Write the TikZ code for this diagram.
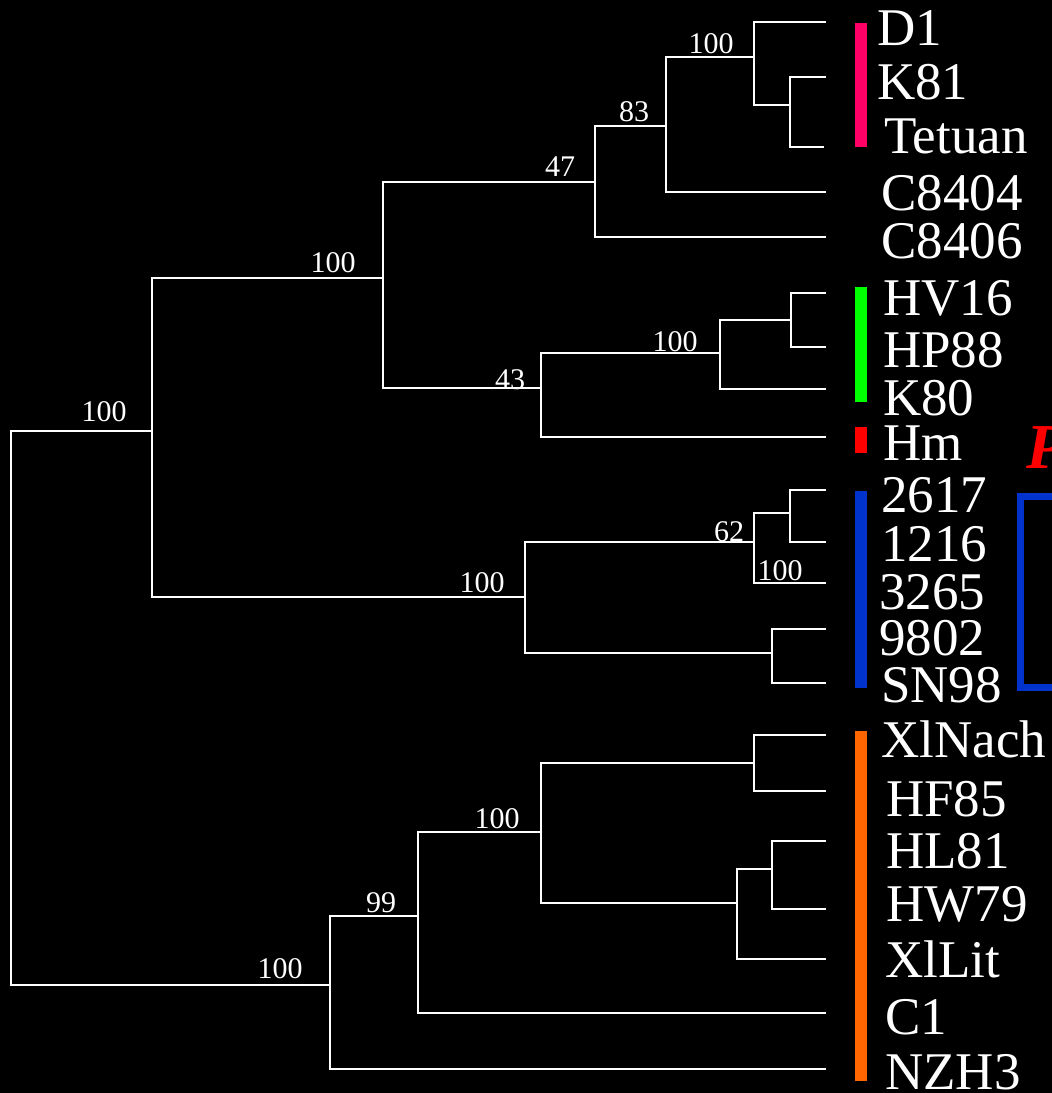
\documentclass[tikz,border=0pt]{standalone}
\usepackage{fontspec}
\setmainfont{Liberation Serif}
\definecolor{pinkc}{HTML}{FF0066}
\definecolor{greenc}{HTML}{00FF00}
\definecolor{redc}{HTML}{FF0000}
\definecolor{bluec}{HTML}{0033CC}
\definecolor{orangec}{HTML}{FF6600}
\begin{document}
\begin{tikzpicture}[x=1pt,y=-1pt,
  branch/.style={draw=white,line width=2pt},
  lab/.style={anchor=base west,inner sep=0pt,text=white,font=\fontsize{53}{53}\selectfont},
  bs/.style={anchor=base,inner sep=0pt,text=white,font=\fontsize{30}{30}\selectfont}]
\fill[black] (0,0) rectangle (1052,1093);
\useasboundingbox (0,0) rectangle (1052,1093);
\clip (0,0) rectangle (1052,1093);
% internal nodes
\coordinate (r) at (11,708);
\coordinate (A) at (152,431);
\coordinate (B) at (383,278);
\coordinate (C) at (595,182);
\coordinate (D) at (666,126);
\coordinate (E) at (754,57);
\coordinate (F) at (790,105);
\coordinate (G) at (541,388);
\coordinate (H) at (720,353);
\coordinate (I) at (791,320);
\coordinate (L) at (525,597);
\coordinate (M) at (754,542);
\coordinate (O) at (790,513);
\coordinate (N) at (772,653);
\coordinate (P) at (330,985);
\coordinate (Q) at (418,916);
\coordinate (S) at (541,832);
\coordinate (T) at (754,763);
\coordinate (U) at (737,903);
\coordinate (V) at (772,869);
% leaf tips
\coordinate (lD1) at (826,22);
\coordinate (lK81) at (826,77);
\coordinate (lTet) at (824,147);
\coordinate (lC84) at (826,192);
\coordinate (lC86) at (826,237);
\coordinate (lHV) at (826,293);
\coordinate (lHP) at (826,347);
\coordinate (lK80) at (826,389);
\coordinate (lHm) at (826,437);
\coordinate (l2617) at (826,490);
\coordinate (l1216) at (826,542);
\coordinate (l3265) at (826,583);
\coordinate (l9802) at (826,629);
\coordinate (lSN) at (826,683);
\coordinate (lXN) at (826,735);
\coordinate (lHF) at (826,791);
\coordinate (lHL) at (826,841);
\coordinate (lHW) at (826,909);
\coordinate (lXL) at (826,959);
\coordinate (lC1) at (826,1013);
\coordinate (lNZ) at (826,1069);
% branches
\draw[branch] (r) |- (A); \draw[branch] (r) |- (P);
\draw[branch] (A) |- (B); \draw[branch] (A) |- (L);
\draw[branch] (B) |- (C); \draw[branch] (B) |- (G);
\draw[branch] (C) |- (D); \draw[branch] (C) |- (lC86);
\draw[branch] (D) |- (E); \draw[branch] (D) |- (lC84);
\draw[branch] (E) |- (lD1); \draw[branch] (E) |- (F);
\draw[branch] (F) |- (lK81); \draw[branch] (F) |- (lTet);
\draw[branch] (G) |- (H); \draw[branch] (G) |- (lHm);
\draw[branch] (H) |- (I); \draw[branch] (H) |- (lK80);
\draw[branch] (I) |- (lHV); \draw[branch] (I) |- (lHP);
\draw[branch] (L) |- (M); \draw[branch] (L) |- (N);
\draw[branch] (M) |- (O); \draw[branch] (M) |- (l3265);
\draw[branch] (O) |- (l2617); \draw[branch] (O) |- (l1216);
\draw[branch] (N) |- (l9802); \draw[branch] (N) |- (lSN);
\draw[branch] (P) |- (Q); \draw[branch] (P) |- (lNZ);
\draw[branch] (Q) |- (S); \draw[branch] (Q) |- (lC1);
\draw[branch] (S) |- (T); \draw[branch] (S) |- (U);
\draw[branch] (T) |- (lXN); \draw[branch] (T) |- (lHF);
\draw[branch] (U) |- (V); \draw[branch] (U) |- (lXL);
\draw[branch] (V) |- (lHL); \draw[branch] (V) |- (lHW);
% bootstrap values
\node[bs] (bE) at (711,53) {100};
\node[bs] (bD) at (634,121) {83};
\node[bs] (bC) at (560,176) {47};
\node[bs] (bB) at (333,272) {100};
\node[bs] (bG) at (510,389) {43};
\node[bs] (bH) at (675,351) {100};
\node[bs] (bA) at (104,421) {100};
\node[bs] (bM) at (729,541) {62};
\node[bs] (bO) at (780,580) {100};
\node[bs] (bL) at (482,592) {100};
\node[bs] (bS) at (497,828) {100};
\node[bs] (bQ) at (381,912) {99};
\node[bs] (bP) at (280,978) {100};
% leaf labels
\node[lab] (tD1) at (877,45) {D1};
\node[lab] (tK81) at (877,99) {K81};
\node[lab] (tTet) at (884,153) {Tetuan};
\node[lab] (tC84) at (881,210) {C8404};
\node[lab] (tC86) at (881,258) {C8406};
\node[lab] (tHV) at (883,315) {HV16};
\node[lab] (tHP) at (883,367) {HP88};
\node[lab] (tK80) at (883,415) {K80};
\node[lab] (tHm) at (883,460) {Hm};
\node[lab] (t2617) at (881,512) {2617};
\node[lab] (t1216) at (881,561) {1216};
\node[lab] (t3265) at (879,609) {3265};
\node[lab] (t9802) at (879,655) {9802};
\node[lab] (tSN) at (881,702) {SN98};
\node[lab] (tXN) at (881,757) {XlNach};
\node[lab] (tHF) at (886,816) {HF85};
\node[lab] (tHL) at (886,868) {HL81};
\node[lab] (tHW) at (886,921) {HW79};
\node[lab] (tXL) at (885,977) {XlLit};
\node[lab] (tC1) at (885,1034) {C1};
\node[lab] (tNZ) at (885,1089) {NZH3};
% group bars
\fill[pinkc] (855,23) rectangle (867,147);
\fill[greenc] (855,287) rectangle (867,402);
\fill[redc] (855,427) rectangle (867,453);
\fill[bluec] (855,491) rectangle (867,688);
\fill[orangec] (855,731) rectangle (867,1081);
% bracket and cut-off title letter
\draw[bluec,line width=7pt] (1060,496) -- (1020,496) -- (1020,687) -- (1060,687);
\node[anchor=base west,inner sep=0pt,text=redc,font=\fontsize{64}{64}\selectfont\bfseries\itshape] (ttl) at (1026,468) {P};
\end{tikzpicture}
\end{document}
